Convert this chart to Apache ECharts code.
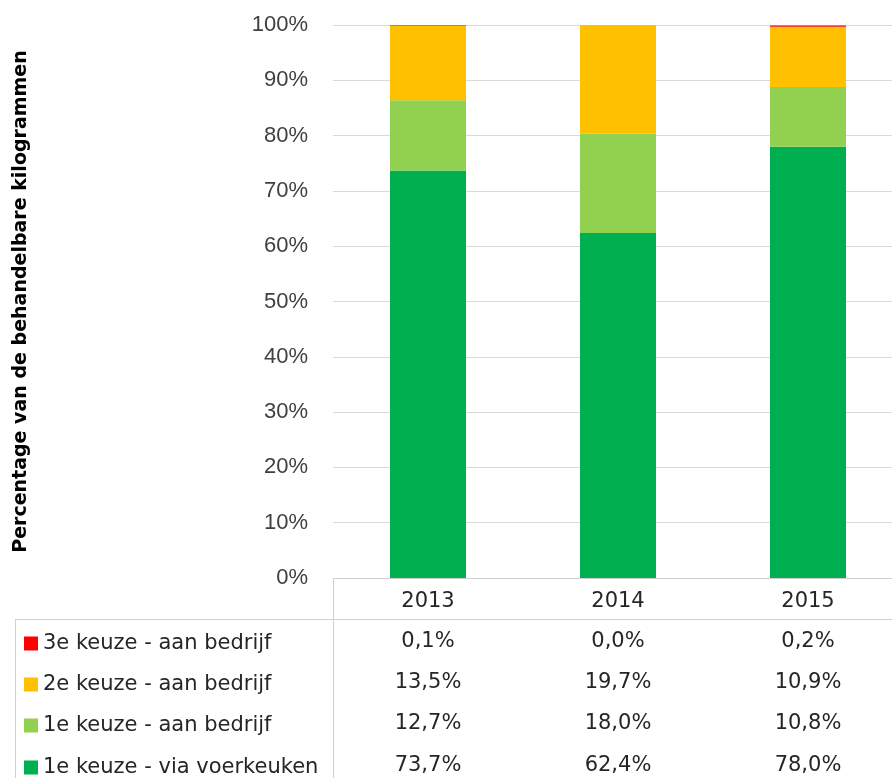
<!DOCTYPE html>
<html>
<head>
<meta charset="utf-8">
<script src="https://cdn.jsdelivr.net/npm/echarts@6/dist/echarts.min.js"></script>
<style>
  html, body { margin: 0; padding: 0; background: #fff; }
  #chart { width: 892px; height: 778px; }
</style>
</head>
<body>
<div id="chart"></div>
<script>
// 数据
const years = ["2013", "2014", "2015"];
const viaVoerkeuken = [73.7, 62.4, 78.0];
const eersteAanBedrijf = [12.7, 18.0, 10.8];
const tweedeAanBedrijf = [13.5, 19.7, 10.9];
const derdeAanBedrijf = [0.1, 0.0, 0.2];
const yTicks = [0, 10, 20, 30, 40, 50, 60, 70, 80, 90, 100];

const seriesNames = [
  "1e keuze - via voerkeuken",
  "1e keuze - aan bedrijf",
  "2e keuze - aan bedrijf",
  "3e keuze - aan bedrijf",
];
const colors = ["#00B050", "#92D050", "#FFC000", "#FF0000"];
const seriesData = [viaVoerkeuken, eersteAanBedrijf, tweedeAanBedrijf, derdeAanBedrijf];

const tableFont = "DejaVu Sans";
const textColor = "#262626";
const lineColor = "#d0d0d0";

// 表格行（从上到下）
const tableRows = [derdeAanBedrijf, tweedeAanBedrijf, eersteAanBedrijf, viaVoerkeuken];
const rowNames = seriesNames.slice().reverse();
const rowCenters = [642, 683, 724, 766];
const axisY = 578;

const fmt = (v) => v.toFixed(1).replace(".", ",") + "%";

const xAxes = [
  {
    type: "category",
    data: years,
    axisTick: { show: false },
    axisLine: { show: true, lineStyle: { color: lineColor, width: 1 } },
    axisLabel: {
      fontFamily: tableFont,
      fontSize: 21,
      color: textColor,
      margin: 602 - axisY,
      verticalAlign: "middle",
    },
  },
];

tableRows.forEach((row, r) => {
  xAxes.push({
    type: "category",
    data: years,
    position: "bottom",
    offset: rowCenters[r] - axisY,
    axisTick: { show: false },
    axisLine: { show: false },
    axisLabel: {
      fontFamily: tableFont,
      fontSize: 21,
      color: textColor,
      margin: 0,
      verticalAlign: "middle",
      formatter: (v, i) => fmt(row[i]),
    },
  });
});

// 每行一个图例
const legends = rowNames.map((name, r) => ({
  left: 19,
  top: rowCenters[r] - 14,
  itemWidth: 14,
  itemHeight: 14,
  icon: "rect",
  data: [name],
  textStyle: { fontFamily: tableFont, fontSize: 21, color: textColor },
  selectedMode: false,
}));

const options = {
  backgroundColor: "#fff",
  animation: false,
  grid: {
    left: 333,
    top: 25,
    width: 570,
    height: 553,
    containLabel: false,
    outerBoundsMode: "none",
  },
  legend: legends,
  xAxis: xAxes,
  yAxis: {
    type: "value",
    min: yTicks[0],
    max: yTicks[yTicks.length - 1],
    interval: 10,
    name: "Percentage van de behandelbare kilogrammen",
    nameLocation: "middle",
    nameRotate: 90,
    nameGap: 302,
    nameTextStyle: {
      fontFamily: "DejaVu Sans",
      fontSize: 19,
      fontWeight: "bold",
      color: "#000",
    },
    axisLine: { show: false },
    axisTick: { show: false },
    axisLabel: {
      fontFamily: "Liberation Sans",
      fontSize: 22,
      color: "#404040",
      margin: 25,
      formatter: "{value}%",
    },
    splitLine: { lineStyle: { color: "#d9d9d9", width: 1 } },
  },
  series: seriesNames.map((name, i) => ({
    name,
    type: "bar",
    stack: "total",
    barWidth: "40%",
    data: seriesData[i],
    itemStyle: { color: colors[i] },
  })),
  graphic: [
    // 数据表边框
    {
      type: "line",
      shape: { x1: 333.5, y1: 578, x2: 333.5, y2: 778 },
      style: { stroke: lineColor, lineWidth: 1 },
    },
    {
      type: "line",
      shape: { x1: 15.5, y1: 619, x2: 15.5, y2: 778 },
      style: { stroke: lineColor, lineWidth: 1 },
    },
    {
      type: "line",
      shape: { x1: 15, y1: 619.5, x2: 892, y2: 619.5 },
      style: { stroke: lineColor, lineWidth: 1 },
    },
  ],
};

const chart = echarts.init(document.getElementById("chart"));
chart.setOption(options);
</script>
</body>
</html>
